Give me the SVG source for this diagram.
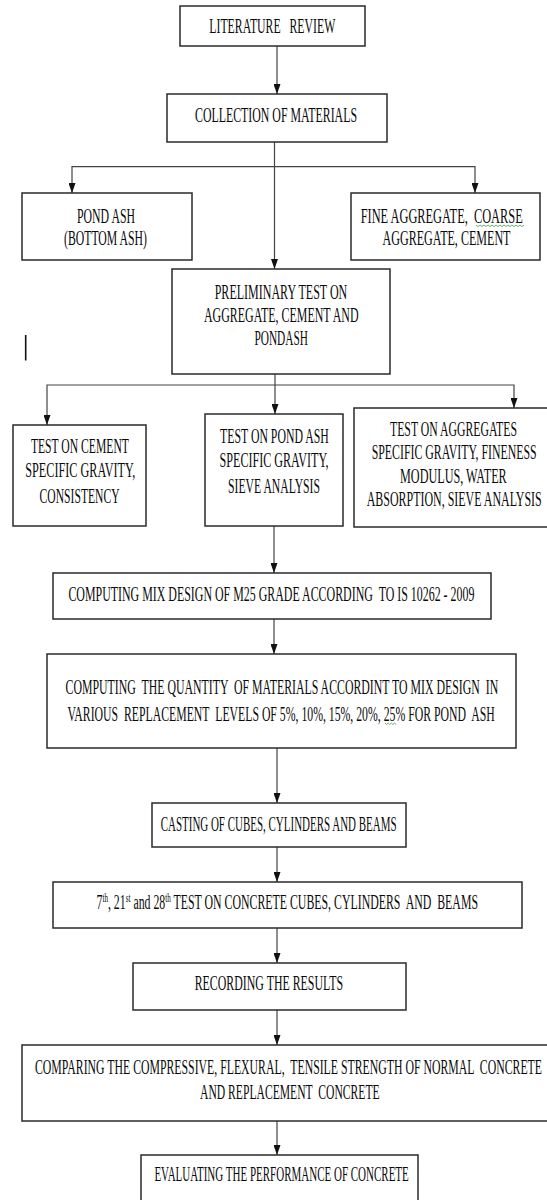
<svg xmlns="http://www.w3.org/2000/svg" width="547" height="1200" viewBox="0 0 547 1200">
<style>
.box{fill:#fff;stroke:#2a2a2a;stroke-width:1.5}
.t{font-family:"Liberation Serif","Times New Roman",serif;font-size:20px;fill:#0a0a0a;white-space:pre}
.sup{font-size:12px}
.c{fill:none;stroke:#444;stroke-width:1.2}
.sq{fill:none;stroke:#5aa55a;stroke-width:0.9}
</style>
<defs>
<marker id="ah" viewBox="0 0 10 7" refX="10" refY="3.5" markerWidth="10" markerHeight="7" markerUnits="userSpaceOnUse" orient="auto">
<path d="M0,0 L10,3.5 L0,7 z" fill="#111"/>
</marker>
</defs>
<rect width="547" height="1200" fill="#fff"/>

<g id="connectors">
<path class="c" d="M277,46 V94" marker-end="url(#ah)"/>
<path class="c" d="M274.5,142 V269" marker-end="url(#ah)"/>
<path class="c" d="M274.5,166.7 H72 V193" marker-end="url(#ah)"/>
<path class="c" d="M274.5,166.7 H475 V193" marker-end="url(#ah)"/>
<path class="c" d="M275,374 V414" marker-end="url(#ah)"/>
<path class="c" d="M275,385 H47 V425" marker-end="url(#ah)"/>
<path class="c" d="M275,385 H514 V408" marker-end="url(#ah)"/>
<path class="c" d="M274,526 V573" marker-end="url(#ah)"/>
<path class="c" d="M274,619 V654" marker-end="url(#ah)"/>
<path class="c" d="M277,748 V803" marker-end="url(#ah)"/>
<path class="c" d="M277,847 V882" marker-end="url(#ah)"/>
<path class="c" d="M277,928 V963" marker-end="url(#ah)"/>
<path class="c" d="M277,1010 V1045" marker-end="url(#ah)"/>
<path class="c" d="M277,1121 V1155" marker-end="url(#ah)"/>
</g>

<line x1="25.7" y1="335" x2="25.7" y2="360.5" stroke="#111" stroke-width="1.6"/>

<g id="literature-review">
<rect class="box" x="180" y="6" width="185" height="40"/>
<text class="t" x="209.3" y="33" textLength="126" lengthAdjust="spacingAndGlyphs">LITERATURE   REVIEW</text>
</g>

<g id="collection">
<rect class="box" x="167" y="94" width="220" height="48"/>
<text class="t" x="195" y="121.5" textLength="162" lengthAdjust="spacingAndGlyphs">COLLECTION OF MATERIALS</text>
</g>

<g id="pond-ash">
<rect class="box" x="22" y="193" width="170" height="67"/>
<text class="t" x="77" y="222.7" textLength="58" lengthAdjust="spacingAndGlyphs">POND ASH</text>
<text class="t" x="64" y="245" textLength="83" lengthAdjust="spacingAndGlyphs">(BOTTOM ASH)</text>
</g>

<g id="aggregates-cement">
<rect class="box" x="351" y="193" width="189" height="67"/>
<text class="t" x="360.7" y="222.7" textLength="162" lengthAdjust="spacingAndGlyphs">FINE AGGREGATE,  COARSE</text>
<text class="t" x="382.5" y="245" textLength="128" lengthAdjust="spacingAndGlyphs">AGGREGATE, CEMENT</text>
<path class="sq" d="M476,225 l2,1.6 l2,-1.6 l2,1.6 l2,-1.6 l2,1.6 l2,-1.6 l2,1.6 l2,-1.6 l2,1.6 l2,-1.6 l2,1.6 l2,-1.6 l2,1.6 l2,-1.6 l2,1.6 l2,-1.6 l2,1.6 l2,-1.6 l2,1.6 l2,-1.6 l2,1.6 l2,-1.6 l2,1.6 l2,-1.6"/>
</g>

<g id="preliminary-test">
<rect class="box" x="172" y="269" width="218" height="105"/>
<text class="t" x="214.7" y="299" textLength="132.6" lengthAdjust="spacingAndGlyphs">PRELIMINARY TEST ON</text>
<text class="t" x="204" y="321.7" textLength="154.6" lengthAdjust="spacingAndGlyphs">AGGREGATE, CEMENT AND</text>
<text class="t" x="254.4" y="345" textLength="53.6" lengthAdjust="spacingAndGlyphs">PONDASH</text>
</g>

<g id="test-cement">
<rect class="box" x="13" y="425" width="133" height="101"/>
<text class="t" x="30.9" y="452.7" textLength="98" lengthAdjust="spacingAndGlyphs">TEST ON CEMENT</text>
<text class="t" x="25.3" y="476.7" textLength="110" lengthAdjust="spacingAndGlyphs">SPECIFIC GRAVITY,</text>
<text class="t" x="39.6" y="503.3" textLength="80" lengthAdjust="spacingAndGlyphs">CONSISTENCY</text>
</g>

<g id="test-pond-ash">
<rect class="box" x="205" y="414" width="138" height="112"/>
<text class="t" x="220" y="443.3" textLength="108.8" lengthAdjust="spacingAndGlyphs">TEST ON POND ASH</text>
<text class="t" x="219.6" y="466.7" textLength="109" lengthAdjust="spacingAndGlyphs">SPECIFIC GRAVITY,</text>
<text class="t" x="228" y="493.3" textLength="92" lengthAdjust="spacingAndGlyphs">SIEVE ANALYSIS</text>
</g>

<g id="test-aggregates">
<rect class="box" x="354" y="408" width="195" height="119"/>
<text class="t" x="390" y="436" textLength="127" lengthAdjust="spacingAndGlyphs">TEST ON AGGREGATES</text>
<text class="t" x="371.7" y="459.3" textLength="165" lengthAdjust="spacingAndGlyphs">SPECIFIC GRAVITY, FINENESS</text>
<text class="t" x="400" y="483.3" textLength="106.7" lengthAdjust="spacingAndGlyphs">MODULUS, WATER</text>
<text class="t" x="366.7" y="506" textLength="175" lengthAdjust="spacingAndGlyphs">ABSORPTION, SIEVE ANALYSIS</text>
</g>

<g id="mix-design">
<rect class="box" x="53" y="573" width="438" height="46"/>
<text class="t" x="68.4" y="600.5" textLength="406" lengthAdjust="spacingAndGlyphs">COMPUTING MIX DESIGN OF M25 GRADE ACCORDING  TO IS 10262 - 2009</text>
</g>

<g id="quantity">
<rect class="box" x="47" y="654" width="469" height="94"/>
<text class="t" x="65.6" y="694" textLength="432.6" lengthAdjust="spacingAndGlyphs">COMPUTING  THE QUANTITY  OF MATERIALS ACCORDINT TO MIX DESIGN  IN</text>
<text class="t" x="67.4" y="720.7" textLength="427.3" lengthAdjust="spacingAndGlyphs">VARIOUS  REPLACEMENT  LEVELS OF 5%, 10%, 15%, 20%, 25% FOR POND  ASH</text>
<path class="sq" d="M385,723 l1.6,1.5 l1.6,-1.5 l1.6,1.5 l1.6,-1.5 l1.6,1.5 l1.6,-1.5 l1.6,1.5"/>
</g>

<g id="casting">
<rect class="box" x="152" y="803" width="254" height="44"/>
<text class="t" x="160.7" y="830.5" textLength="235.8" lengthAdjust="spacingAndGlyphs">CASTING OF CUBES, CYLINDERS AND BEAMS</text>
</g>

<g id="testing">
<rect class="box" x="53" y="882" width="469" height="46"/>
<text class="t" x="96.5" y="908.5" textLength="381.5" lengthAdjust="spacingAndGlyphs">7<tspan class="sup" dy="-7">th</tspan><tspan dy="7">, 21</tspan><tspan class="sup" dy="-7">st</tspan><tspan dy="7"> and 28</tspan><tspan class="sup" dy="-7">th</tspan><tspan dy="7"> TEST ON CONCRETE CUBES, CYLINDERS  AND  BEAMS</tspan></text>
</g>

<g id="recording">
<rect class="box" x="133" y="963" width="273" height="47"/>
<text class="t" x="194.7" y="990" textLength="148.3" lengthAdjust="spacingAndGlyphs">RECORDING THE RESULTS</text>
</g>

<g id="comparing">
<rect class="box" x="22" y="1045" width="527" height="76"/>
<text class="t" x="35" y="1074" textLength="507" lengthAdjust="spacingAndGlyphs">COMPARING THE COMPRESSIVE, FLEXURAL,  TENSILE STRENGTH OF NORMAL  CONCRETE</text>
<text class="t" x="200" y="1099" textLength="179.6" lengthAdjust="spacingAndGlyphs">AND REPLACEMENT  CONCRETE</text>
</g>

<g id="evaluating">
<rect class="box" x="141" y="1155" width="277" height="60"/>
<text class="t" x="154.4" y="1181" textLength="254.4" lengthAdjust="spacingAndGlyphs">EVALUATING THE PERFORMANCE OF CONCRETE</text>
</g>
</svg>
